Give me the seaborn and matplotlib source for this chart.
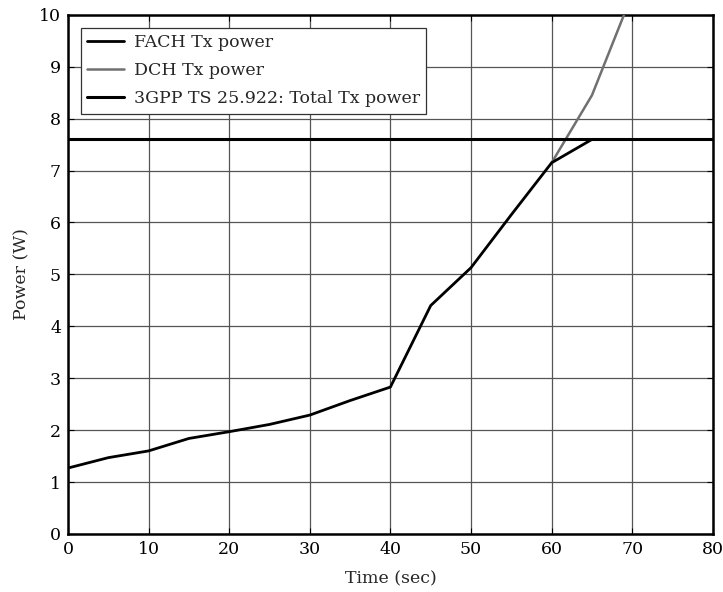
import numpy as np
import pandas as pd
import matplotlib
matplotlib.use("Agg")
import matplotlib.pyplot as plt
import seaborn as sns

# Time axis (sec) and transmit power (W) samples
fach_time = [0, 5, 10, 15, 20, 25, 30, 35, 40, 45, 50, 55, 60, 65]
fach_power = [1.27, 1.47, 1.60, 1.84, 1.97, 2.11, 2.29, 2.57, 2.83, 4.40, 5.13, 6.15, 7.15, 7.60]

dch_time = [60, 65, 70]
dch_power = [7.15, 8.45, 10.4]

total_limit = 7.6  # 3GPP TS 25.922 total Tx power

x_ticks = [0, 10, 20, 30, 40, 50, 60, 70, 80]
y_ticks = [0, 1, 2, 3, 4, 5, 6, 7, 8, 9, 10]

sns.set_theme(style="ticks")
plt.rcParams["font.family"] = ["DejaVu Serif"]

fig = plt.figure(figsize=(7.23, 5.92), dpi=100)
ax = fig.add_axes([0.094, 0.098, 0.892, 0.877])

fach_df = pd.DataFrame({"time": fach_time, "power": fach_power})
dch_df = pd.DataFrame({"time": dch_time, "power": dch_power})
limit_df = pd.DataFrame({"time": [x_ticks[0], x_ticks[-1]], "power": [total_limit, total_limit]})

sns.lineplot(data=fach_df, x="time", y="power", ax=ax, color="black", lw=2.0,
             label="FACH Tx power", zorder=4)
sns.lineplot(data=dch_df, x="time", y="power", ax=ax, color="#707070", lw=1.8,
             label="DCH Tx power", zorder=3)
sns.lineplot(data=limit_df, x="time", y="power", ax=ax, color="black", lw=2.2,
             label="3GPP TS 25.922: Total Tx power", zorder=5)

ax.set_xlim(0, 80)
ax.set_ylim(0, 10)
ax.set_xticks(x_ticks)
ax.set_yticks(y_ticks)
ax.grid(True, color="#555555", lw=0.9)
ax.set_axisbelow(True)
ax.tick_params(direction="in", top=True, right=True, length=4, width=0.8,
               labelsize=12.5, colors="black", pad=5)
for s in ax.spines.values():
    s.set_linewidth(1.8)
    s.set_color("black")

ax.set_xlabel("Time (sec)", fontsize=12.5, labelpad=9)
ax.set_ylabel("Power (W)", fontsize=12.5, labelpad=6)

leg = ax.legend(loc="upper left", fontsize=12.5, frameon=True, fancybox=False,
                edgecolor="#333333", framealpha=1, borderaxespad=0.75,
                handlelength=2.1, handletextpad=0.6, labelspacing=0.65, borderpad=0.35)
leg.get_frame().set_linewidth(0.9)

fig.savefig("out.png", dpi=100)
